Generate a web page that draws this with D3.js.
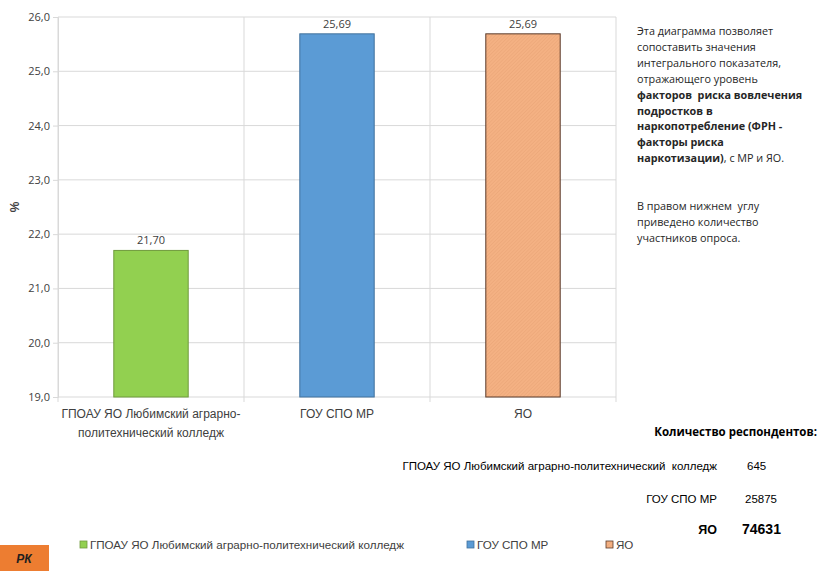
<!DOCTYPE html>
<html>
<head>
<meta charset="utf-8">
<script src="https://cdn.jsdelivr.net/npm/d3@7"></script>
<style>
  body { margin: 0; background: #fff; }
  svg { display: block; }
  text { white-space: pre; }
</style>
</head>
<body>
<svg id="chart" width="819" height="571"></svg>
<script>
// data
var categories = ["ГПОАУ ЯО Любимский аграрно-политехнический колледж", "ГОУ СПО МР", "ЯО"];
var categoryLines = [["ГПОАУ ЯО Любимский аграрно-", "политехнический колледж"], ["ГОУ СПО МР"], ["ЯО"]];
var values = [21.70, 25.69, 25.69];
var yTicks = [19, 20, 21, 22, 23, 24, 25, 26];
var respondents = [645, 25875, 74631];

var fills = ["#92d050", "#5b9bd5", "#f4b183"];
var strokes = ["#6f9a3c", "#41719c", "#5a3a2a"];

var svg = d3.select("#chart");
var fmt = function(v, d) { return v.toFixed(d).replace(".", ","); };

// hatch for the ЯО bar
var defs = svg.append("defs");
var pat = defs.append("pattern")
  .attr("id", "hatch")
  .attr("patternUnits", "userSpaceOnUse")
  .attr("width", 2.5).attr("height", 2.5)
  .attr("patternTransform", "rotate(45)");
pat.append("rect").attr("width", 2.5).attr("height", 2.5).attr("fill", fills[2]);
pat.append("line").attr("x1", 0).attr("y1", 0).attr("x2", 0).attr("y2", 2.5)
  .attr("stroke", "#e6a072").attr("stroke-width", 0.8);

var plot = { left: 58, right: 616, top: 17, bottom: 397 };

var x = d3.scaleBand()
  .domain(categories)
  .range([plot.left, plot.right])
  .paddingInner(0.6)
  .paddingOuter(0.3);

var y = d3.scaleLinear()
  .domain([19, 26])
  .range([plot.bottom, plot.top]);

var g = svg.append("g");

// horizontal gridlines
g.selectAll(".hgrid")
  .data(yTicks)
  .enter().append("line")
  .attr("class", "hgrid")
  .attr("x1", plot.left).attr("x2", plot.right)
  .attr("y1", function(d) { return y(d); })
  .attr("y2", function(d) { return y(d); })
  .attr("stroke", "#d9d9d9").attr("stroke-width", 1);

// vertical gridlines between categories
var bounds = d3.range(categories.length + 1).map(function(i) {
  return plot.left + i * (plot.right - plot.left) / categories.length;
});
g.selectAll(".vgrid")
  .data(bounds)
  .enter().append("line")
  .attr("class", "vgrid")
  .attr("x1", function(d) { return d; }).attr("x2", function(d) { return d; })
  .attr("y1", plot.top).attr("y2", plot.bottom + 5)
  .attr("stroke", "#d9d9d9").attr("stroke-width", 1);

// y axis
var yAxis = d3.axisLeft(y)
  .tickValues(yTicks)
  .tickSize(5)
  .tickFormat(function(d) { return fmt(d, 1); });
var ya = svg.append("g")
  .attr("transform", "translate(" + plot.left + ",0)")
  .call(yAxis);
ya.select(".domain").attr("stroke", "#d9d9d9");
ya.selectAll(".tick line").attr("stroke", "#d9d9d9");
ya.selectAll(".tick text")
  .attr("fill", "#404040")
  .style("font-family", "Open Sans, sans-serif")
  .style("font-size", "11px")
  .attr("x", -8);

svg.append("text")
  .attr("transform", "translate(19," + y(22.5) + ") rotate(-90)")
  .attr("text-anchor", "middle")
  .attr("fill", "#404040")
  .style("font-family", "Liberation Sans, Arial, sans-serif")
  .style("font-size", "12px")
  .style("font-weight", "bold")
  .text("%");

// bars
g.selectAll(".bar")
  .data(values)
  .enter().append("rect")
  .attr("class", "bar")
  .attr("x", function(d, i) { return x(categories[i]); })
  .attr("width", x.bandwidth())
  .attr("y", function(d) { return y(d); })
  .attr("height", function(d) { return plot.bottom - y(d); })
  .attr("fill", function(d, i) { return i === 2 ? "url(#hatch)" : fills[i]; })
  .attr("stroke", function(d, i) { return strokes[i]; })
  .attr("stroke-width", 1);

// value labels
g.selectAll(".val")
  .data(values)
  .enter().append("text")
  .attr("class", "val")
  .attr("x", function(d, i) { return x(categories[i]) + x.bandwidth() / 2; })
  .attr("y", function(d) { return y(d) - 6; })
  .attr("text-anchor", "middle")
  .attr("fill", "#404040")
  .style("font-family", "Open Sans, sans-serif")
  .style("font-size", "11px")
  .text(function(d) { return fmt(d, 2); });

// category labels
var cat = g.selectAll(".cat")
  .data(categoryLines)
  .enter().append("text")
  .attr("class", "cat")
  .attr("text-anchor", "middle")
  .attr("fill", "#404040")
  .style("font-family", "Liberation Sans, Arial, sans-serif")
  .style("font-size", "12px")
  .attr("transform", function(d, i) {
    return "translate(" + (x(categories[i]) + x.bandwidth() / 2) + "," + (plot.bottom + 21) + ")";
  });
cat.selectAll("tspan")
  .data(function(d) { return d; })
  .enter().append("tspan")
  .attr("x", 0)
  .attr("dy", function(d, i) { return i === 0 ? 0 : 19; })
  .text(function(d) { return d; });

// side note
var note = [
  [["Эта диаграмма позволяет", false]],
  [["сопоставить значения", false]],
  [["интегрального показателя,", false]],
  [["отражающего уровень", false]],
  [["факторов  риска вовлечения", true]],
  [["подростков в", true]],
  [["наркопотребление (ФРН -", true]],
  [["факторы риска", true]],
  [["наркотизации)", true], [", с МР и ЯО.", false]],
  [],
  [],
  [["В правом нижнем  углу", false]],
  [["приведено количество", false]],
  [["участников опроса.", false]]
];
var noteG = svg.append("g")
  .style("font-family", "Open Sans, sans-serif")
  .style("font-size", "10.8px")
  .attr("fill", "#262626");
note.forEach(function(line, i) {
  if (!line.length) return;
  var t = noteG.append("text").attr("x", 637).attr("y", 35 + i * 15.9);
  line.forEach(function(p) {
    t.append("tspan")
      .style("font-weight", p[1] ? "bold" : "normal")
      .text(p[0]);
  });
});

// respondents table
var tab = svg.append("g")
  .style("font-family", "Liberation Sans, Arial, sans-serif")
  .attr("fill", "#000");
tab.append("text")
  .attr("x", 817).attr("y", 436)
  .attr("text-anchor", "end")
  .style("font-family", "Open Sans, sans-serif")
  .style("font-size", "11.5px")
  .style("font-weight", "bold")
  .text("Количество респондентов:");

var rowY = [470, 503, 534];
categories.forEach(function(c, i) {
  var last = i === categories.length - 1;
  tab.append("text")
    .attr("x", 717).attr("y", rowY[i])
    .attr("text-anchor", "end")
    .style("font-size", last ? "12.5px" : "11.5px")
    .style("font-weight", last ? "bold" : "normal")
    .text(i === 0 ? "ГПОАУ ЯО Любимский аграрно-политехнический  колледж" : c);
  tab.append("text")
    .attr("x", last ? 742 : (i === 0 ? 747 : 745)).attr("y", rowY[i])
    .style("font-size", last ? "14px" : "11.5px")
    .style("font-weight", last ? "bold" : "normal")
    .text(respondents[i]);
});

// legend
var legendX = [80, 467, 606];
var leg = svg.append("g")
  .style("font-family", "Liberation Sans, Arial, sans-serif")
  .style("font-size", "11.6px")
  .attr("fill", "#404040");
categories.forEach(function(c, i) {
  leg.append("rect")
    .attr("x", legendX[i]).attr("y", 541)
    .attr("width", 7).attr("height", 7)
    .attr("fill", i === 2 ? "url(#hatch)" : fills[i])
    .attr("stroke", strokes[i]).attr("stroke-width", 0.8);
  leg.append("text")
    .attr("x", legendX[i] + 10).attr("y", 548.5)
    .text(c);
});

// RK badge
svg.append("rect")
  .attr("x", 0).attr("y", 545).attr("width", 49).attr("height", 26)
  .attr("fill", "#ed7d31");
svg.append("text")
  .attr("x", 24).attr("y", 563)
  .attr("text-anchor", "middle")
  .attr("fill", "#1f1f1f")
  .style("font-family", "Liberation Sans, Arial, sans-serif")
  .style("font-size", "12px")
  .style("font-weight", "bold")
  .style("font-style", "italic")
  .text("РК");
</script>
</body>
</html>
